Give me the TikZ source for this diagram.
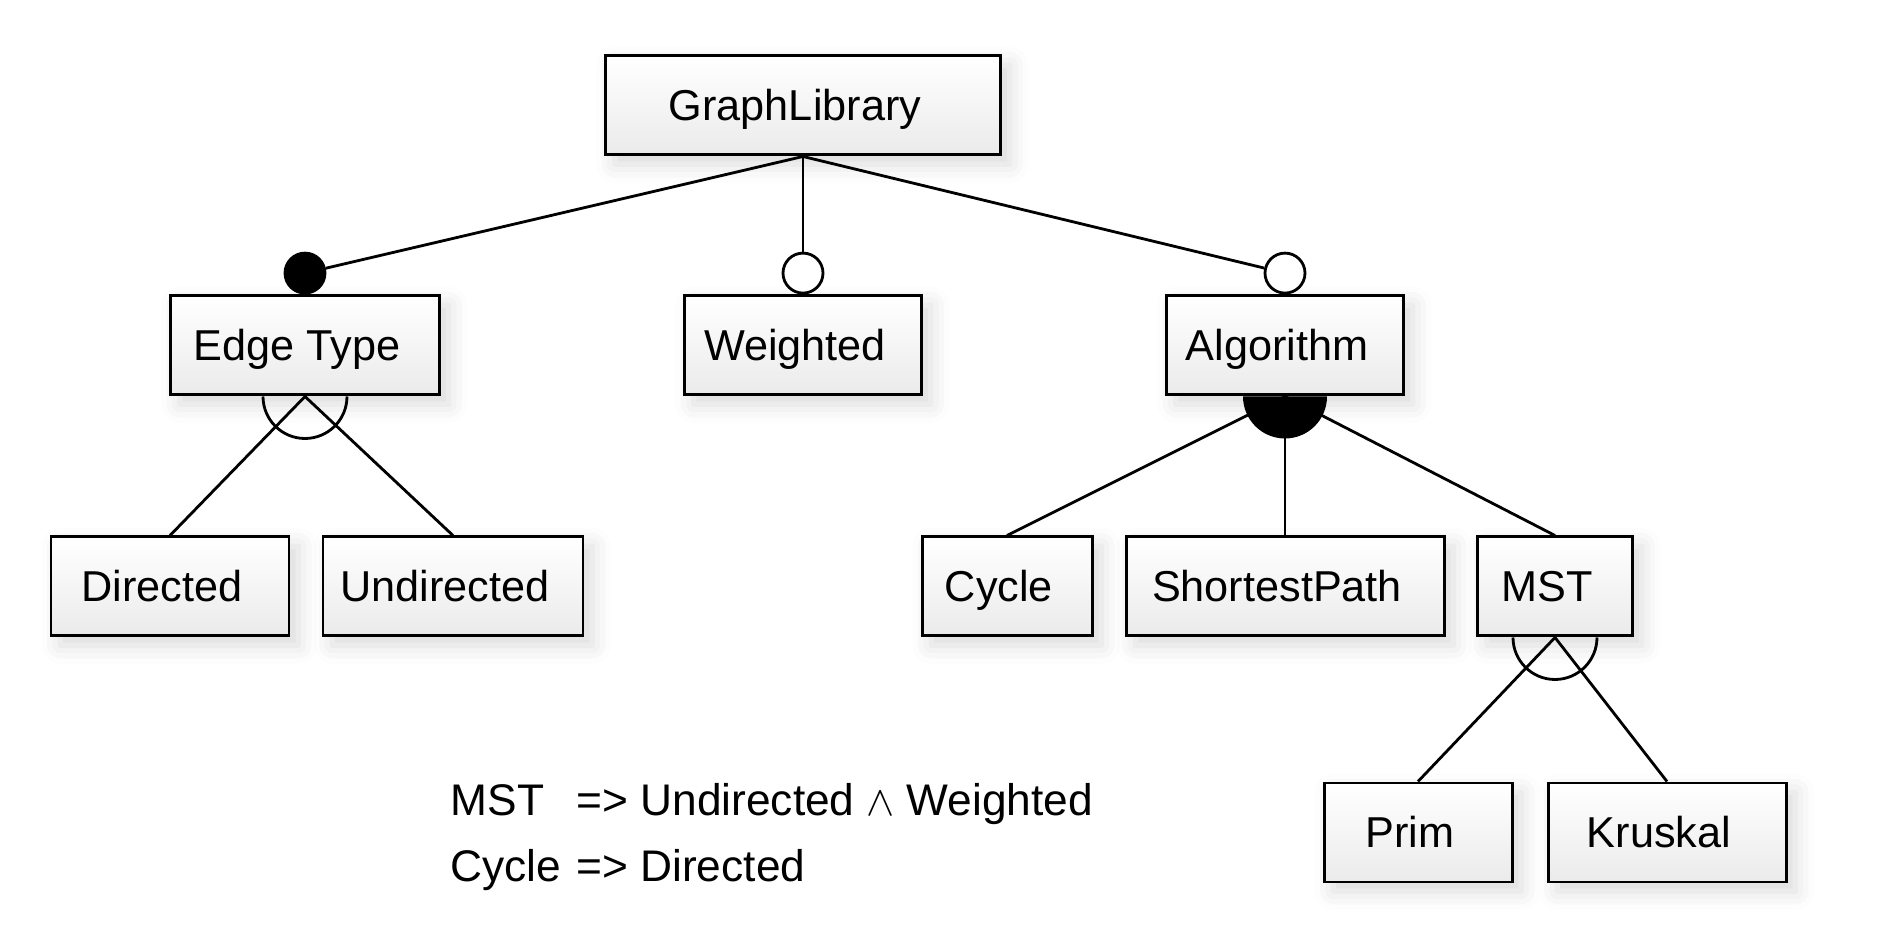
\documentclass[tikz,border=0pt]{standalone}
\usepackage{fontspec}
\setmainfont{Liberation Sans}
\usetikzlibrary{shadows.blur}

\begin{document}
\begin{tikzpicture}[feat/.style={rectangle,draw,line width=0.85pt,top color=white,bottom color=gray!16,minimum height=0.99cm,text height=8.8pt,text depth=0pt,inner sep=0pt,font=\fontsize{12.3}{14.4}\selectfont,execute at begin node=\hspace*{-0.16cm},blur shadow={shadow xshift=0.5ex,shadow yshift=-0.5ex,shadow blur radius=1ex,shadow opacity=15}},
opt/.style={circle,draw,fill=white,line width=0.8pt,minimum size=0.4cm,inner sep=0pt,anchor=south},
mand/.style={opt,fill=black}]
\useasboundingbox (0,0) rectangle (19.04,9.38);
\node[feat,minimum width=3.95cm] (1) at (8.03,8.325) {GraphLibrary};
\node[feat,minimum width=2.69cm] (2) at (3.05,5.925) {Edge Type};
\node[feat,minimum width=2.37cm] (3) at (8.03,5.925) {Weighted};
\node[feat,minimum width=2.37cm] (4) at (12.85,5.925) {Algorithm};
\node[feat,minimum width=2.38cm] (5) at (1.70,3.515) {Directed};
\node[feat,minimum width=2.60cm] (6) at (4.53,3.515) {Undirected};
\node[feat,minimum width=1.70cm] (7) at (10.07,3.515) {Cycle};
\node[feat,minimum width=3.18cm] (8) at (12.85,3.515) {ShortestPath};
\node[feat,minimum width=1.55cm] (9) at (15.55,3.515) {MST};
\node[feat,minimum width=1.88cm] (10) at (14.18,1.055) {Prim};
\node[feat,minimum width=2.38cm] (11) at (16.67,1.055) {Kruskal};
\node[mand] (c2) at (2.north) {};
\node[opt] (c3) at (3.north) {};
\node[opt] (c4) at (4.north) {};
\path[draw,line width=0.8pt](1.south) edge (c2);
\path[draw,line width=0.8pt](1.south) edge (c3);
\path[draw,line width=0.8pt](1.south) edge (c4);
% groups
\draw[line width=0.8pt] (2.south) ++(-0.42,0) arc (180:360:0.42);
\path[draw,line width=0.8pt](2.south) edge (5.north);
\path[draw,line width=0.8pt](2.south) edge (6.north);
\fill (4.south) ++(-0.42,0) arc (180:360:0.42) -- cycle;
\path[draw,line width=0.8pt](4.south) edge (7.north);
\path[draw,line width=0.8pt](4.south) edge (8.north);
\path[draw,line width=0.8pt](4.south) edge (9.north);
\draw[line width=0.8pt] (9.south) ++(-0.42,0) arc (180:360:0.42);
\path[draw,line width=0.8pt](9.south) edge (10.north);
\path[draw,line width=0.8pt](9.south) edge (11.north);
% constraints
\node[anchor=base west,inner sep=0pt,font=\fontsize{12.6}{18.7}\selectfont] (cons) at (4.50,1.22) {\begin{tabular}[t]{@{}l@{\hspace{0.15cm}}l@{}}MST & => Undirected\hspace{0.12cm}$\wedge$\hspace{0.12cm}Weighted\\ Cycle & => Directed\end{tabular}};
\end{tikzpicture}
\end{document}
